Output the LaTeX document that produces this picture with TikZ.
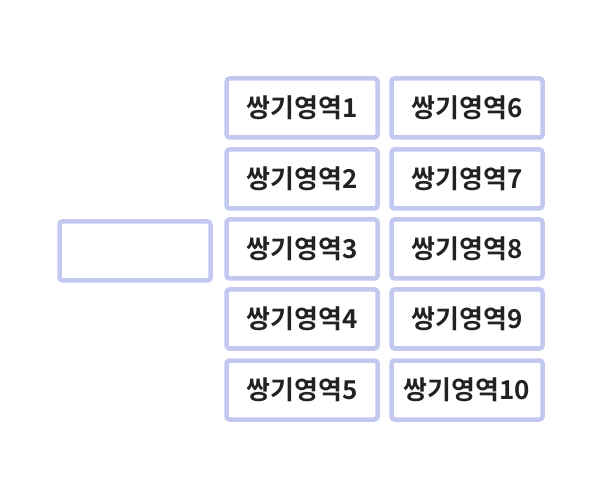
\documentclass[tikz,border=0pt]{standalone}
\usepackage{fontspec}
\newfontfamily\kr{Noto Sans CJK KR}[BoldFont=* Bold]
\definecolor{bd}{HTML}{C3C8F0}
\definecolor{tx}{HTML}{222222}
\begin{document}
\begin{tikzpicture}[x=1pt,y=-1pt,
 box/.style={draw=bd,line width=4.5pt,rounded corners=3pt,fill=white,minimum width=151pt,minimum height=59pt,inner sep=0pt,font=\kr\bfseries\fontsize{26}{30}\selectfont,text=tx}]
\useasboundingbox (0,0) rectangle (602,502);
\node[box] (l) at (135,251) {};
\foreach \i/\y in {1/108,2/179,3/249,4/319,5/390}{
 \node[box] (a\i) at (302,\y) {쌍기영역\i};}
\foreach \i/\y in {6/108,7/179,8/249,9/319,10/390}{
 \node[box] (b\i) at (467,\y) {쌍기영역\i};}
\end{tikzpicture}
\end{document}
